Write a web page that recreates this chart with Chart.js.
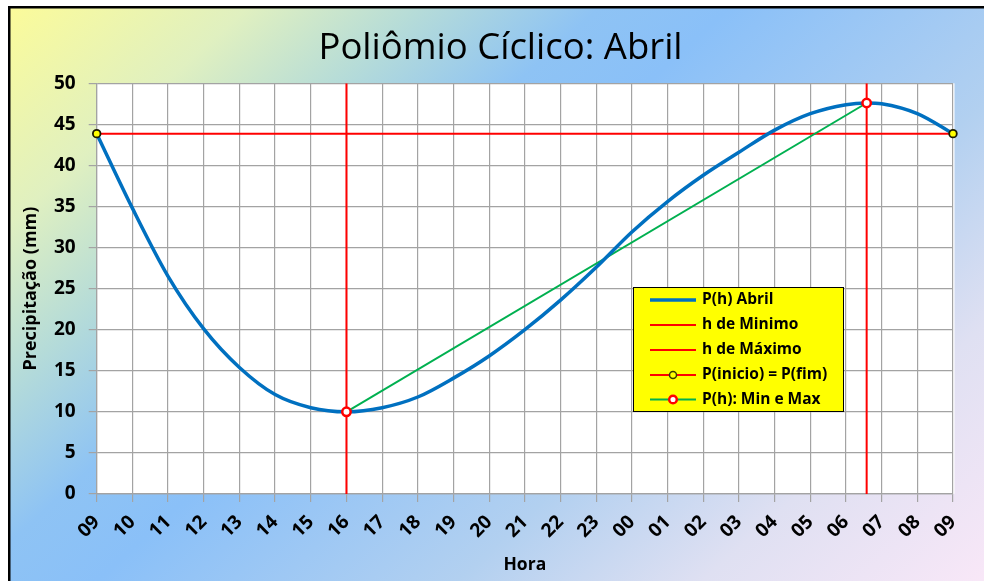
<!DOCTYPE html>
<html>
<head>
<meta charset="utf-8">
<script src="https://cdn.jsdelivr.net/npm/chart.js@4.4.1/dist/chart.umd.min.js"></script>
<style>
  html, body { margin: 0; padding: 0; background: #fff; }
  #wrap { width: 984px; height: 581px; position: relative; }
</style>
</head>
<body>
<div id="wrap"><canvas id="c" width="984" height="581"></canvas></div>
<script>
// ---- data ----
const hourLabels = ['09','10','11','12','13','14','15','16','17','18','19','20','21','22','23','00','01','02','03','04','05','06','07','08','09'];
const curveHours  = [0, 1, 2, 3, 4, 5, 6, 7, 8, 9, 10, 11, 12, 13, 14, 15, 16, 17, 18, 19, 20, 21, 21.58, 22, 23, 24];
const curveValues = [43.87, 34.8, 26.5, 20.1, 15.4, 12.1, 10.5, 10.0, 10.5, 11.8, 14.1, 16.8, 20.0, 23.6, 27.6, 31.9, 35.6, 38.8, 41.6, 44.3, 46.3, 47.4, 47.6, 47.5, 46.3, 43.87];
const hMin = 7, pMin = 10.0;
const hMax = 21.58, pMax = 47.6;
const hStart = 0, hEnd = 24, pStartEnd = 43.87;
const yTicks = [0, 5, 10, 15, 20, 25, 30, 35, 40, 45, 50];
const legendLabels = ['P(h) Abril', 'h de Minimo', 'h de Máximo', 'P(inicio) = P(fim)', 'P(h): Min e Max'];

const BLUE = '#0070c0', RED = '#ff0000', GREEN = '#00b050', YEL = '#ffff00';
const FONT = '"Open Sans"';

const bgPlugin = {
  id: 'bg',
  afterLayout(chart) {
    // centre the title over the whole framed chart
    if (chart.titleBlock) { chart.titleBlock.left = 17; chart.titleBlock.right = 984; }
  },
  beforeDraw(chart) {
    const { ctx, width, height, chartArea: a } = chart;
    ctx.save();
    ctx.fillStyle = '#ffffff';
    ctx.fillRect(0, 0, width, height);
    const g = ctx.createLinearGradient(10, 8, 10 + 0.67 * 1100, 8 + 0.74 * 1100);
    g.addColorStop(0.00, '#fbfb9a');
    g.addColorStop(0.145, '#e0f0c0');
    g.addColorStop(0.25, '#b6dcd8');
    g.addColorStop(0.36, '#8ec3f4');
    g.addColorStop(0.44, '#8ac0f8');
    g.addColorStop(0.66, '#b2d0f0');
    g.addColorStop(0.81, '#dfe0f2');
    g.addColorStop(1.00, '#fbe8f8');
    ctx.fillStyle = g;
    ctx.fillRect(10, 8, width, height);
    ctx.strokeStyle = '#000';
    ctx.lineWidth = 2.5;
    ctx.strokeRect(9.25, 7.25, width + 20, height + 20);
    ctx.fillStyle = '#ffffff';
    ctx.fillRect(a.left, a.top, a.width + 1.5, a.height);
    ctx.restore();
  }
};

const legendPlugin = {
  id: 'customLegend',
  afterDraw(chart) {
    const ctx = chart.ctx;
    const L = 633.5, T = 287.5, W = 210, H = 124;
    ctx.save();
    ctx.fillStyle = YEL;
    ctx.fillRect(L, T, W, H);
    ctx.strokeStyle = '#000';
    ctx.lineWidth = 1;
    ctx.strokeRect(L, T, W, H);
    const rows = [300, 325, 350, 375, 399.5];
    const styles = [
      { c: BLUE, w: 3.5 },
      { c: RED, w: 2 },
      { c: RED, w: 2 },
      { c: RED, w: 2, m: 'yel' },
      { c: GREEN, w: 2, m: 'red' }
    ];
    ctx.font = 'bold 15.5px ' + FONT;
    ctx.textBaseline = 'middle';
    ctx.textAlign = 'left';
    legendLabels.forEach((lab, i) => {
      const y = rows[i], s = styles[i];
      ctx.beginPath();
      ctx.strokeStyle = s.c;
      ctx.lineWidth = s.w;
      ctx.moveTo(650, y); ctx.lineTo(696, y);
      ctx.stroke();
      if (s.m === 'yel') {
        ctx.beginPath(); ctx.arc(673, y, 3.5, 0, Math.PI * 2);
        ctx.fillStyle = YEL; ctx.fill();
        ctx.lineWidth = 1.5; ctx.strokeStyle = '#3a3a00'; ctx.stroke();
      } else if (s.m === 'red') {
        ctx.beginPath(); ctx.arc(673, y, 3.8, 0, Math.PI * 2);
        ctx.fillStyle = '#fff'; ctx.fill();
        ctx.lineWidth = 2.5; ctx.strokeStyle = RED; ctx.stroke();
      }
      ctx.fillStyle = '#000';
      ctx.fillText(lab, 702, y);
    });
    ctx.restore();
  }
};

const curve = curveHours.map((h, i) => ({ x: h, y: curveValues[i] }));

new Chart(document.getElementById('c'), {
  type: 'line',
  data: {
    datasets: [
      { label: 'minmax markers', data: [{ x: hMin, y: pMin }, { x: hMax, y: pMax }], showLine: false,
        pointRadius: 4.2, pointBackgroundColor: '#fff', pointBorderColor: RED, pointBorderWidth: 2.5, clip: false },
      { label: 'start end markers', data: [{ x: hStart, y: pStartEnd }, { x: hEnd, y: pStartEnd }], showLine: false,
        pointRadius: 3.8, pointBackgroundColor: YEL, pointBorderColor: '#1a1a00', pointBorderWidth: 1.8, clip: false },
      { label: legendLabels[0], data: curve, borderColor: BLUE, borderWidth: 3.5, pointRadius: 0,
        cubicInterpolationMode: 'monotone', fill: false, clip: false },
      { label: legendLabels[4], data: [{ x: hMin, y: pMin }, { x: hMax, y: pMax }], borderColor: GREEN, borderWidth: 2, pointRadius: 0 },
      { label: legendLabels[3], data: [{ x: hStart, y: pStartEnd }, { x: hEnd, y: pStartEnd }], borderColor: RED, borderWidth: 2, pointRadius: 0, clip: false },
      { label: legendLabels[1], data: [{ x: hMin, y: 0 }, { x: hMin, y: 50 }], borderColor: RED, borderWidth: 2, pointRadius: 0 },
      { label: legendLabels[2], data: [{ x: hMax, y: 0 }, { x: hMax, y: 50 }], borderColor: RED, borderWidth: 2, pointRadius: 0 }
    ]
  },
  options: {
    responsive: false,
    animation: false,
    events: [],
    layout: { padding: { left: 12, top: 8, right: 31, bottom: 0 } },
    plugins: {
      legend: { display: false },
      tooltip: { enabled: false },
      title: {
        display: true,
        text: 'Poliômio Cíclico: Abril',
        color: '#000',
        font: { family: FONT, size: 36.5, weight: 'normal', lineHeight: 1.2 },
        padding: { top: 18.5, bottom: 13 }
      }
    },
    scales: {
      x: {
        type: 'linear',
        min: 0, max: 24,
        afterFit(s) { s.height = 87.1; },
        afterBuildTicks(s) { s.ticks = hourLabels.map((_, i) => ({ value: i })); },
        ticks: {
          stepSize: 1, autoSkip: false, minRotation: 45, maxRotation: 45,
          color: '#000', padding: 9,
          font: { family: FONT, size: 19, weight: 'bold' },
          callback: (v, i) => hourLabels[i]
        },
        grid: { color: '#a3a3a3', lineWidth: 1.2, tickLength: 8, drawTicks: true },
        border: { color: '#a3a3a3', width: 1.2 },
        title: { display: true, text: 'Hora', color: '#000', font: { family: FONT, size: 17.5, weight: 'bold', lineHeight: 1.2 },
          padding: { top: 0, bottom: 5 } }
      },
      y: {
        type: 'linear',
        min: 0, max: 50,
        afterFit(s) { s.width = 84.7; },
        afterBuildTicks(s) { s.ticks = yTicks.map(v => ({ value: v })); },
        ticks: { stepSize: 5, color: '#000', padding: 13, font: { family: FONT, size: 19, weight: 'bold' } },
        grid: { color: '#a3a3a3', lineWidth: 1.2, tickLength: 8 },
        border: { color: '#a3a3a3', width: 1.2 },
        title: { display: true, text: 'Precipitação (mm)', color: '#000', font: { family: FONT, size: 18, weight: 'bold', lineHeight: 1.2 },
          padding: { top: 8.5, bottom: 0 } }
      }
    }
  },
  plugins: [bgPlugin, legendPlugin]
});
</script>
</body>
</html>
